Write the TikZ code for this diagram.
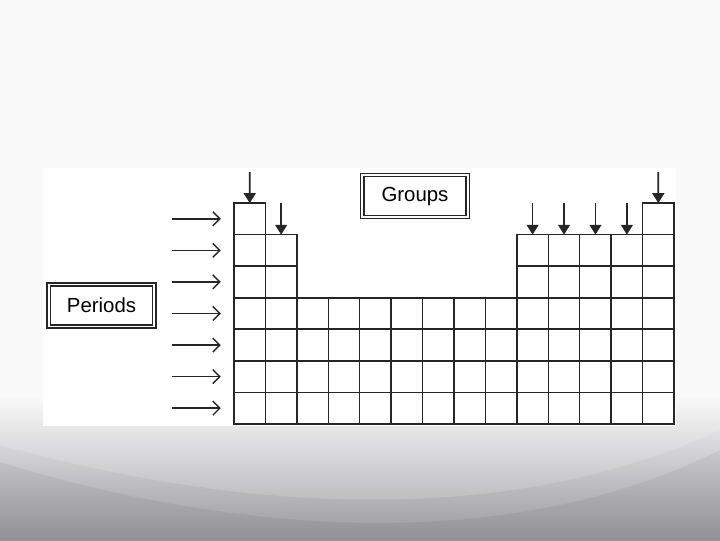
\documentclass[tikz,border=0pt]{standalone}
\usepackage{fontspec}
\setmainfont{Liberation Sans}
\usetikzlibrary{arrows.meta}

\definecolor{slidebg}{HTML}{F9F9F9}
\definecolor{swbot}{HTML}{98989E}
\definecolor{gridline}{HTML}{262626}

\begin{document}
\begin{tikzpicture}[x=0.025cm, y=-0.025cm,
      cell/.style={draw=gridline, line width=1.05pt, minimum size=0.786cm, inner sep=0pt, outer sep=0pt},
      labelbox/.style={draw=gridline, double, double distance=1.4pt, line width=1pt, minimum width=2.63cm, minimum height=1.05cm, font=\fontsize{14.5}{17}\selectfont},
      parr/.style={line width=1.2pt, gridline, -{Straight Barb[length=5pt, width=10pt, line width=1pt]}},
      garr/.style={line width=1.2pt, gridline, -{Triangle[length=7pt, width=8.5pt]}}
    ]
      \useasboundingbox (0,0) rectangle (720,540);
      \clip (0,0) rectangle (720,540);

      % Slide background
      \fill[slidebg] (0,0) rectangle (720,540);
      \shade[top color=slidebg, bottom color=swbot] (0,395) rectangle (720,540);
      \fill[white, opacity=0.15] (0,445) .. controls (200,500) and (480,540) .. (720,430) -- (720,395) -- (0,395) -- cycle;
      \fill[black, opacity=0.05] (0,462) .. controls (220,530) and (500,560) .. (720,450) -- (720,540) -- (0,540) -- cycle;
      \fill[white] (43,168) rectangle (676,426);

      % Table cells
      \foreach \r/\cols in {1/{1,14}, 2/{1,2,10,11,12,13,14}, 3/{1,2,10,11,12,13,14},
                            4/{1,...,14}, 5/{1,...,14}, 6/{1,...,14}, 7/{1,...,14}}
        \foreach \c in \cols
          \node[cell] (c-\r-\c) at (218.29+31.43*\c, 187.2+31.57*\r) {};

      % Labels
      \node[labelbox] (groups) at (415,196) {Groups};
      \node[labelbox] (periods) at (101.5,305.5) {Periods};

      % Period arrows
      \foreach \r in {1,...,7} {
        \coordinate (pa-\r) at (172, 187.2+31.57*\r);
        \draw[parr] (pa-\r) -- ([xshift=-0.33cm]c-\r-1.west);
      }

      % Group arrows
      \coordinate (ga-1) at (249.7,172);
      \coordinate (ga-14) at (658.3,172);
      \draw[garr] (ga-1) -- (c-1-1.north);
      \draw[garr] (ga-14) -- (c-1-14.north);
      \foreach \c in {2,10,11,12,13} {
        \coordinate (ga-\c) at (218.29+31.43*\c, 203);
        \draw[garr] (ga-\c) -- (c-2-\c.north);
      }
    \end{tikzpicture}
\end{document}
